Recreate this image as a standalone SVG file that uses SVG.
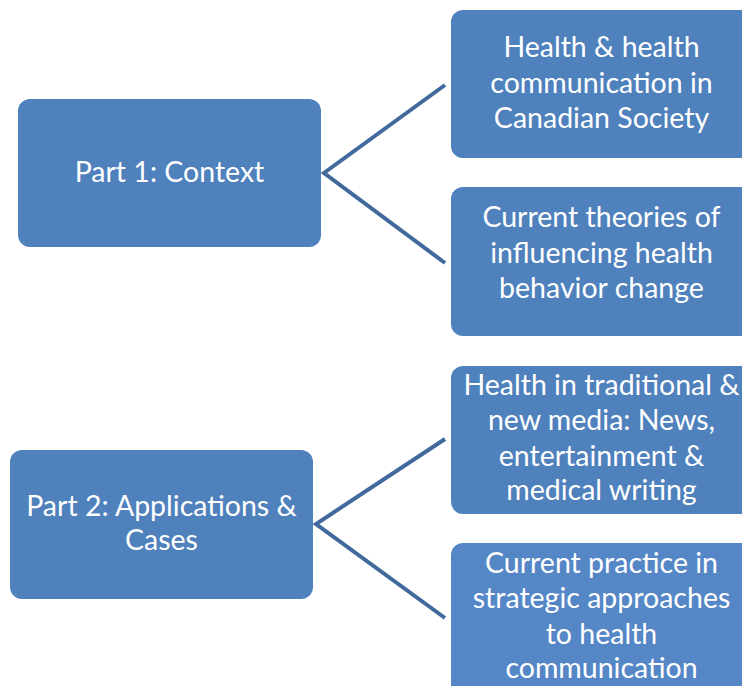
<svg xmlns="http://www.w3.org/2000/svg" width="742" height="686" viewBox="0 0 742 686">
<style>
.box{fill:#4F81BD;}
.light{fill:#5587C7;}
.t{font-family:Lato,"Open Sans","Liberation Sans",sans-serif;font-size:28.5px;fill:#FFFFFF;text-anchor:middle;}
.c{fill:none;stroke:#41699C;stroke-width:4;stroke-linejoin:miter;}
</style>
<rect width="742" height="686" fill="#FFFFFF"/>
<g id="connectors">
<polyline class="c" points="445,85 324,173 445,263"/>
<polyline class="c" points="445,439 316,524 445,618"/>
</g>
<g id="part1">
<rect class="box" x="18" y="99" width="303" height="148" rx="12"/>
<text class="t" x="169.5" y="182">Part 1: Context</text>
</g>
<g id="health-communication">
<rect class="box" x="451" y="10" width="302" height="148" rx="12"/>
<text class="t" x="601.5" y="57">Health &amp; health</text>
<text class="t" x="601.5" y="93">communication in</text>
<text class="t" x="601.5" y="128">Canadian Society</text>
</g>
<g id="current-theories">
<rect class="box" x="451" y="187" width="302" height="149" rx="12"/>
<text class="t" x="601.5" y="227">Current theories of</text>
<text class="t" x="601.5" y="263">influencing health</text>
<text class="t" x="601.5" y="298">behavior change</text>
</g>
<g id="part2">
<rect class="box" x="10" y="450" width="303" height="149" rx="12"/>
<text class="t" x="161.5" y="516">Part 2: Applications &amp;</text>
<text class="t" x="161.5" y="550">Cases</text>
</g>
<g id="health-media">
<rect class="box" x="451" y="366" width="302" height="148" rx="12"/>
<text class="t" x="601.5" y="395">Health in traditional &amp;</text>
<text class="t" x="601.5" y="430">new media: News,</text>
<text class="t" x="601.5" y="466">entertainment &amp;</text>
<text class="t" x="601.5" y="500">medical writing</text>
</g>
<g id="current-practice">
<rect class="light" x="451" y="543" width="302" height="160" rx="12"/>
<text class="t" x="601.5" y="573">Current practice in</text>
<text class="t" x="601.5" y="608">strategic approaches</text>
<text class="t" x="601.5" y="644">to health</text>
<text class="t" x="601.5" y="678">communication</text>
</g>
</svg>
